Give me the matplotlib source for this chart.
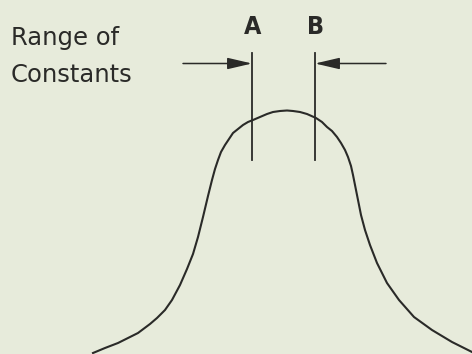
import numpy as np
import matplotlib.pyplot as plt

# bell curve (pixel units, y grows downward)
curve_x = [93, 105, 118, 138, 150, 157, 165, 172, 180, 187, 193, 198, 203,
           208, 212, 215, 218, 221, 225, 229, 233, 238, 243, 248, 253, 260,
           267, 273, 280, 287, 293, 300, 307, 316, 322, 327, 332, 337, 341,
           345, 348, 351, 353, 355, 358, 361, 365, 370, 377, 387, 399, 414,
           432, 452, 472]
curve_y = [353, 348, 343, 333, 324, 318, 310, 300, 285, 269, 254, 237, 217,
           196, 180, 169, 160, 152, 145, 139, 133, 129, 125, 122, 120, 117,
           114, 112, 111, 110.5, 111, 112, 114, 118, 122, 127, 131, 137, 143,
           150, 157, 166, 175, 185, 200, 215, 230, 245, 263, 283, 300, 317,
           330, 342, 352]

# range of constants
range_labels = ['A', 'B']
range_x = [252, 315]
line_top, line_bottom = 53, 160
arrow_y = 63.5
arrow_tails = [183, 386]
label_y = 27

bg = '#e7ebdb'
ink = '#2a2a28'

fig = plt.figure(figsize=(4.72, 3.54), dpi=100, facecolor=bg)
ax = fig.add_axes([0, 0, 1, 1])
ax.set_facecolor(bg)
ax.set_xlim(0, 472)
ax.set_ylim(354, 0)
ax.axis('off')

ax.plot(curve_x, curve_y, color=ink, lw=1.5, solid_joinstyle='round')

for lab, x, tail in zip(range_labels, range_x, arrow_tails):
    ax.plot([x, x], [line_top, line_bottom], color=ink, lw=1.3)
    ax.annotate('', xy=(x, arrow_y), xytext=(tail, arrow_y),
                arrowprops=dict(arrowstyle='-|>,head_length=1.5,head_width=0.35',
                                color=ink, lw=1.1, shrinkA=0, shrinkB=0))
    ax.text(x + 1, label_y, lab, ha='center', va='center', fontsize=18,
            fontweight='bold', family='DejaVu Sans', fontstretch='condensed',
            color=ink)

ax.text(11, 45.5, 'Range of', ha='left', va='baseline', fontsize=17.5,
        family='DejaVu Sans', color=ink)
ax.text(11, 81.5, 'Constants', ha='left', va='baseline', fontsize=17.5,
        family='DejaVu Sans', color=ink)

fig.savefig('out.png', dpi=100, facecolor=bg)
